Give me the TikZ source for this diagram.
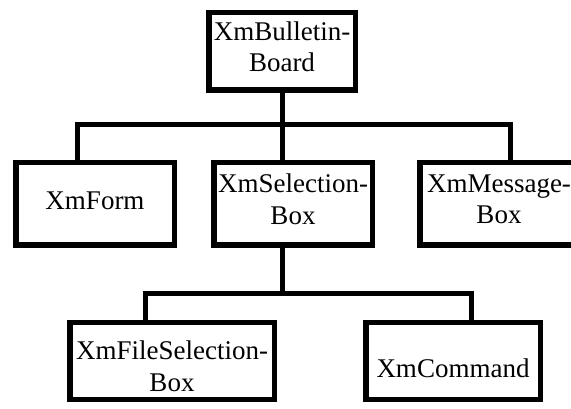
\documentclass[tikz,border=0pt]{standalone}
\usepackage{fontspec}
\setmainfont{Liberation Serif}
\usepackage{tikz}
\usetikzlibrary{positioning}

\tikzset{
  widget/.style={draw, line width=5.5pt, inner sep=0pt, align=center,
    minimum height=82.5pt, font=\fontsize{27}{31.5}\selectfont},
  wire/.style={line width=5pt}
}

\begin{document}
\begin{tikzpicture}[x=1pt, y=-1pt]
    \useasboundingbox (0,0) rectangle (571,409);
    \clip (0,0) rectangle (571,409);
    % Klassen
    \node[widget, minimum width=146.5pt, minimum height=77.5pt, text depth=10pt] (board) at (282,51.5) {XmBulletin-\\Board};
    \node[widget, minimum width=158.5pt, text depth=6pt] (form) at (95,204) {XmForm};
    \node[widget, minimum width=158.5pt, text depth=10pt] (selbox) at (293,204) {XmSelection-\\Box};
    \node[widget, minimum width=158.5pt, text depth=10pt] (msgbox) at (499,204) {XmMessage-\\Box};
    \node[widget, minimum width=204.5pt, minimum height=77pt, text height=60pt, text depth=0pt] (filebox) at (172,361) {XmFileSelection-\\Box};
    \node[widget, minimum width=174.5pt, minimum height=77pt, text height=32pt, text depth=0pt] (command) at (453,361) {XmCommand};
    % Verbindungen
    \coordinate (b-form) at (77,124.5);
    \coordinate (b-msg) at (510,124.5);
    \coordinate (b-file) at (145.5,293);
    \coordinate (b-cmd) at (471.5,293);
    \draw[wire] (form.north -| b-form) -- (b-form) -- (b-msg) -- (msgbox.north -| b-msg); % obere Ebene
    \draw[wire] (board.south) -- (selbox.north -| board.south);
    \draw[wire] (filebox.north -| b-file) -- (b-file) -- (b-cmd) -- (command.north -| b-cmd); % untere Ebene
    \draw[wire] (selbox.south -| board.south) -- (b-file -| board.south);
\end{tikzpicture}
\end{document}
